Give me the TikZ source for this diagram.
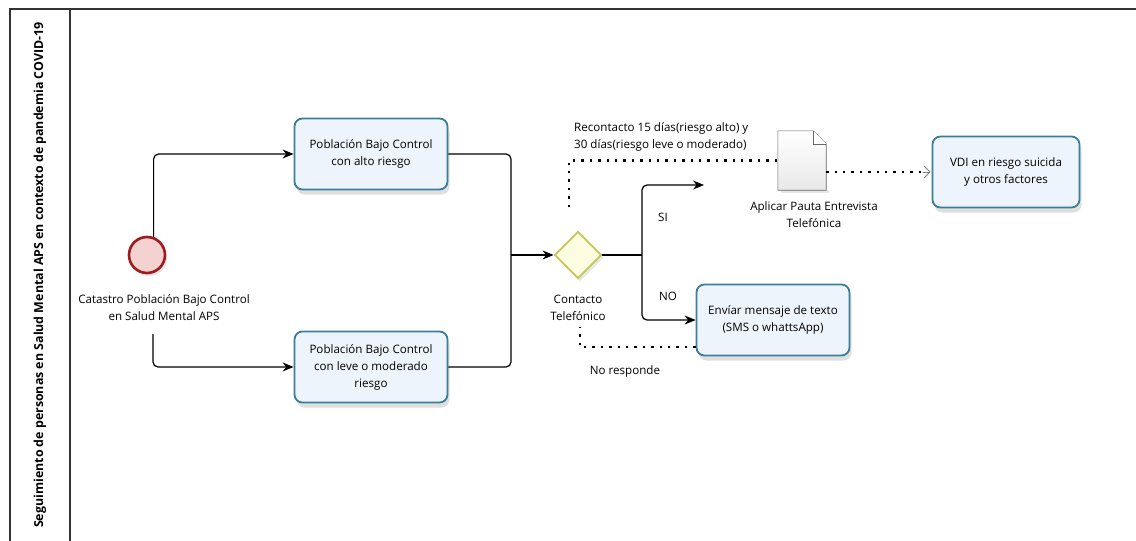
\documentclass[tikz,border=0pt]{standalone}
\usepackage{fontspec}
\setmainfont{Open Sans}
\usetikzlibrary{arrows.meta,shapes.geometric,shadows,calc}
\definecolor{boxborder}{HTML}{3A7E9C}
\definecolor{boxfill}{HTML}{EEF4FB}
\definecolor{gwborder}{HTML}{C4C65A}
\definecolor{gwfill}{HTML}{FCFCE0}
\definecolor{evborder}{HTML}{9E1C1C}
\definecolor{evfill}{HTML}{F4D2D2}
\definecolor{frame}{HTML}{333333}
\tikzset{
  lbl/.style={font=\fontsize{11.6}{17}\selectfont, align=center, inner sep=1pt},
  taskbox/.style={draw=boxborder, line width=1.8pt, rounded corners=8pt, fill=boxfill,
    minimum width=153pt, minimum height=71pt, align=center,
    font=\fontsize{11.6}{17}\selectfont,
    drop shadow={shadow xshift=2pt, shadow yshift=-5pt, opacity=0.25, fill=gray}},
  flow/.style={line width=1.2pt, rounded corners=5pt, -{Stealth[length=11pt,width=9pt]}},
  flowplain/.style={line width=1.2pt, rounded corners=5pt},
  assoc/.style={line width=2.4pt, dash pattern=on 2.4pt off 6pt},
}
\begin{document}
\begin{tikzpicture}[x=1pt,y=-1pt]
\useasboundingbox (0,0) rectangle (1136,541);
% pool frame
\draw[frame, line width=1.3pt] (10,545) -- (10,9) -- (1136,9);
\draw[frame, line width=1.3pt] (70,9) -- (70,545);
\node[rotate=90, font=\bfseries\fontsize{12.4}{14}\selectfont] (title) at (40,275)
  {Seguimiento de personas en Salud Mental APS en contexto de pandemia COVID-19};

% nodes
\node[circle, draw=evborder, line width=2.6pt, fill=evfill, minimum size=36pt, inner sep=0pt,
  drop shadow={shadow xshift=2pt, shadow yshift=-3pt, opacity=0.2, fill=gray}] (start) at (147,255) {};
\node[lbl] (startlbl) at (164,308) {Catastro Población Bajo Control\\en Salud Mental APS};
\coordinate (s2) at (153,334);

\node[taskbox] (b1) at (371,154) {Población Bajo Control\\con alto riesgo};
\node[taskbox] (b2) at (371,367) {Población Bajo Control\\con leve o moderado\\riesgo};

\node[diamond, draw=gwborder, line width=1.8pt, fill=gwfill, minimum width=47pt, minimum height=47pt,
  inner sep=0pt, drop shadow={shadow xshift=2pt, shadow yshift=-3pt, opacity=0.2, fill=gray}] (gw) at (578,255) {};
\node[lbl] (gwlbl) at (578,308) {Contacto\\Telefónico};

\node[taskbox] (env) at (773,320) {Envíar mensaje de texto\\(SMS o whattsApp)};
\node[taskbox, minimum width=147pt] (vdi) at (1006,172) {VDI en riesgo suicida\\y otros factores};

% document artifact
\node[minimum width=48pt, minimum height=59pt, inner sep=0pt] (doc) at (802,160.5) {};
\fill[gray, opacity=0.2] ($(doc.south west)+(3,3)$) rectangle ($(doc.south east)+(3,0)$);
\draw[gray!80!black, line width=0.6pt, top color=white, bottom color=gray!18]
  (doc.south west) -- (doc.north west) -- ($(doc.north east)+(-13,0)$)
  -- ($(doc.north east)+(0,13)$) -- (doc.south east) -- cycle;
\draw[gray!80!black, line width=0.6pt, fill=white]
  ($(doc.north east)+(-13,0)$) -- ($(doc.north east)+(-13,13)$) -- ($(doc.north east)+(0,13)$);
\node[lbl] (doclbl) at (814,214.5) {Aplicar Pauta Entrevista\\Telefónica};

% sequence flows
\draw[flow] (start.70) |- (b1.west);
\draw[flow] (s2) |- (b2.west);
\coordinate (j1) at (511,255);
\draw[flowplain] (b1.east) -| (j1);
\draw[flowplain] (b2.east) -| (j1);
\draw[flow] (j1) -- (gw.west);
\coordinate (j2) at (642,255);
\coordinate (siend) at (704,185);
\draw[flowplain] (gw.east) -- (j2);
\draw[flow] (j2) |- (siend);
\draw[flow] (j2) |- (env.west);
\node[lbl] (si) at (663,217) {SI};
\node[lbl] (no) at (668,296) {NO};

% associations
\coordinate (rec0) at (569,207);
\draw[assoc] (rec0) |- (doc.west);
\node[lbl, align=left, anchor=west] (reclbl) at (573,136.5)
  {Recontacto 15 días(riesgo alto) y\\30 días(riesgo leve o moderado)};
\coordinate (nr0) at (580,327);
\draw[assoc] (env.west |- 0,347) -| (nr0);
\node[lbl] (nrlbl) at (625,371) {No responde};
\draw[assoc] (doc.east |- vdi.west) -- ($(vdi.west)+(-8,0)$);
\draw[gray, line width=0.8pt, -{Straight Barb[length=6pt,width=12pt]}] ($(vdi.west)+(-9,0)$) -- ($(vdi.west)+(-1,0)$);
\end{tikzpicture}
\end{document}
